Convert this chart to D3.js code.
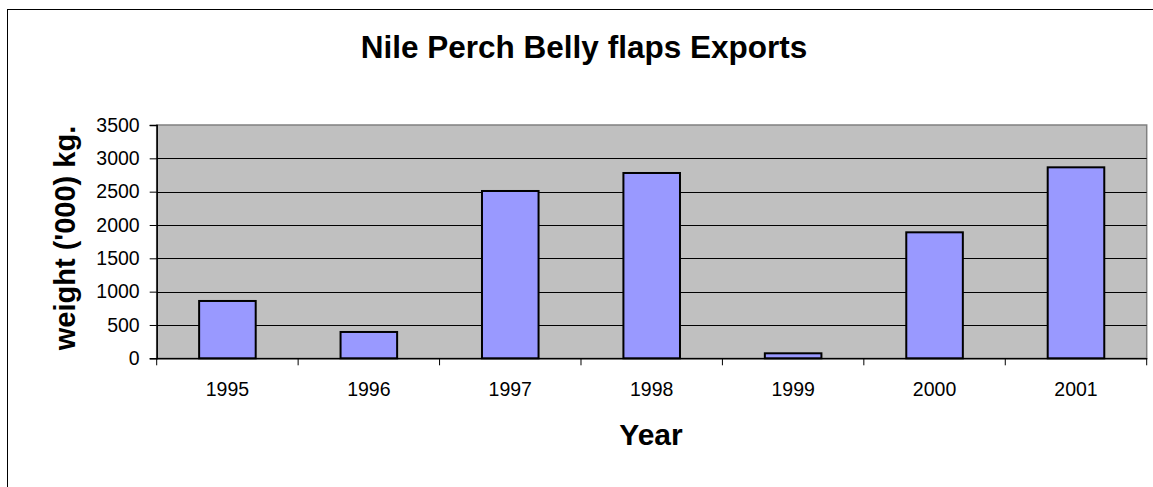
<!DOCTYPE html>
<html>
<head>
<meta charset="utf-8">
<script src="https://cdn.jsdelivr.net/npm/d3@7/dist/d3.min.js"></script>
<style>
  html, body { margin: 0; padding: 0; background: #fff; }
  svg { display: block; font-family: "Liberation Sans", Arial, sans-serif; }
</style>
</head>
<body>
<svg id="chart" width="1153" height="487"></svg>
<script>
const years = ["1995", "1996", "1997", "1998", "1999", "2000", "2001"];
const exportsKg = [860, 395, 2510, 2780, 75, 1890, 2865];
const yTicks = [0, 500, 1000, 1500, 2000, 2500, 3000, 3500];
const titleText = "Nile Perch Belly flaps Exports";
const xLabel = "Year";
const yLabel = "weight ('000) kg.";

(function () {
const svg = d3.select("#chart");
const pLeft = 156.7, pRight = 1146.7, pTop = 125, pBottom = 358.3;

// outer chart border
svg.append("rect").attr("x", 7.5).attr("y", 9.5).attr("width", 1200).attr("height", 600)
  .attr("fill", "#fff").attr("stroke", "#000").attr("stroke-width", 1);

const x = d3.scaleBand().domain(years).range([pLeft, pRight]).padding(0);
const y = d3.scaleLinear().domain([0, 3500]).range([pBottom, pTop]);

// plot area
svg.append("rect").attr("x", pLeft).attr("y", pTop).attr("width", pRight - pLeft).attr("height", pBottom - pTop)
  .attr("fill", "#c0c0c0").attr("stroke", "#808080").attr("stroke-width", 1.5);

// gridlines
svg.append("g").selectAll("line").data(yTicks.filter(d => d > 0 && d < 3500)).join("line")
  .attr("x1", pLeft).attr("x2", pRight)
  .attr("y1", d => Math.round(y(d)) + 0.5).attr("y2", d => Math.round(y(d)) + 0.5)
  .attr("stroke", "#000").attr("stroke-width", 1);

// bars
const bw = x.bandwidth() * 0.4;
svg.append("g").selectAll("rect").data(years).join("rect")
  .attr("x", (d) => x(d) + (x.bandwidth() - bw) / 2)
  .attr("y", (d, i) => y(exportsKg[i]))
  .attr("width", bw)
  .attr("height", (d, i) => y(0) - y(exportsKg[i]))
  .attr("fill", "#9999ff").attr("stroke", "#000").attr("stroke-width", 2);

// y axis
const yAxis = d3.axisLeft(y).tickValues(yTicks).tickSize(7).tickPadding(10).tickFormat(d3.format("d"));
const gy = svg.append("g").attr("transform", `translate(${pLeft},0)`).call(yAxis);
gy.select(".domain").attr("stroke", "#000").attr("stroke-width", 1.5);
gy.selectAll("text").attr("font-size", "19.5px").attr("fill", "#000")
  .attr("font-family", "'Liberation Sans', Arial, sans-serif");

// x axis
const xAxis = d3.axisBottom(x).tickSize(0).tickPadding(24);
const gx = svg.append("g").attr("transform", `translate(0,${pBottom})`).call(xAxis);
gx.select(".domain").attr("stroke", "#000").attr("stroke-width", 1.5);
gx.selectAll("text").attr("font-size", "19.5px").attr("fill", "#000")
  .attr("font-family", "'Liberation Sans', Arial, sans-serif");
// band boundary ticks
const bounds = years.map(d => x(d)).concat([pRight]);
gx.append("g").selectAll("line").data(bounds).join("line")
  .attr("x1", d => d).attr("x2", d => d).attr("y1", 0).attr("y2", 7)
  .attr("stroke", "#000").attr("stroke-width", 1);

// title
svg.append("text").attr("x", 584).attr("y", 58).attr("text-anchor", "middle")
  .attr("font-size", "31.5px").attr("font-weight", "bold").text(titleText);

// x label
svg.append("text").attr("x", 651).attr("y", 445).attr("text-anchor", "middle")
  .attr("font-size", "30px").attr("font-weight", "bold").text(xLabel);

// y label
svg.append("text").attr("transform", "translate(75,238) rotate(-90)").attr("text-anchor", "middle")
  .attr("font-size", "29px").attr("font-weight", "bold").text(yLabel);
})();
</script>
</body>
</html>
